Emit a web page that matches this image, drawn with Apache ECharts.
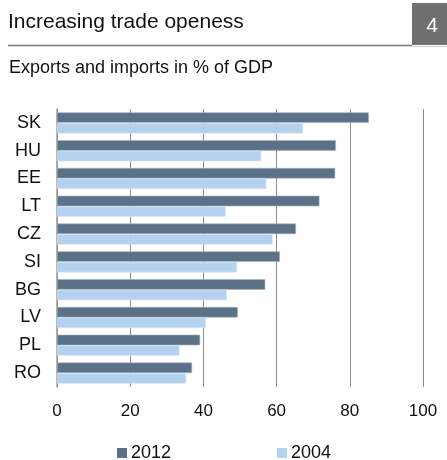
<!DOCTYPE html>
<html>
<head>
<meta charset="utf-8">
<script src="https://cdn.jsdelivr.net/npm/echarts@6/dist/echarts.min.js"></script>
<style>
	html, body { margin: 0; padding: 0; background: #fff; }
	#chart { width: 447px; height: 460px; }
</style>
</head>
<body>
<div id="chart"></div>
<script>
/**
 * Increasing trade openess - exports and imports in % of GDP
 */
var countries = ['SK', 'HU', 'EE', 'LT', 'CZ', 'SI', 'BG', 'LV', 'PL', 'RO'];
var values2012 = [85.2, 76.2, 76.0, 71.7, 65.3, 60.9, 56.9, 49.4, 39.1, 36.9];
var values2004 = [67.2, 55.8, 57.2, 46.1, 58.9, 49.2, 46.4, 40.7, 33.5, 35.3];
var seriesNames = ['2012', '2004'];
var xTicks = [0, 20, 40, 60, 80, 100];

var font = 'Liberation Sans, Arial, sans-serif';

function tradeChart(id) {
	var myChart = echarts.init(document.getElementById(id));
	var option = {
		animation: false,
		textStyle: { fontFamily: font },
		title: [
			{
				text: 'Increasing trade openess',
				left: 8,
				top: 12,
				padding: 0,
				textStyle: { fontFamily: font, fontSize: 21, fontWeight: 'normal', color: '#111' }
			},
			{
				text: 'Exports and imports in % of GDP',
				left: 9,
				top: 59,
				padding: 0,
				textStyle: { fontFamily: font, fontSize: 18, fontWeight: 'normal', color: '#111' }
			}
		],
		graphic: [
			{
				type: 'line',
				shape: { x1: 8, y1: 45.5, x2: 412, y2: 45.5 },
				style: { stroke: '#7a7a7a', lineWidth: 1.5 }
			},
			{
				type: 'line',
				shape: { x1: 412, y1: 46.5, x2: 447, y2: 46.5 },
				style: { stroke: '#cccccc', lineWidth: 1 }
			},
			{
				type: 'rect',
				shape: { x: 412, y: 3, width: 35, height: 42 },
				style: { fill: '#707070' }
			},
			{
				type: 'text',
				x: 432,
				y: 26,
				style: {
					text: '4',
					fill: '#fff',
					font: '21px ' + font,
					align: 'center',
					verticalAlign: 'middle'
				}
			}
		],
		legend: {
			data: seriesNames,
			left: 117,
			top: 444,
			padding: 0,
			itemGap: 106,
			itemWidth: 10,
			itemHeight: 10,
			icon: 'rect',
			itemStyle: { borderWidth: 0 },
			textStyle: { fontFamily: font, fontSize: 18, color: '#111', padding: [0, 0, 0, -1] }
		},
		grid: {
			left: 57,
			right: 24,
			top: 109,
			bottom: 73
		},
		xAxis: {
			type: 'value',
			min: xTicks[0],
			max: xTicks[xTicks.length - 1],
			interval: 20,
			axisLine: { show: false },
			axisTick: { show: false },
			axisLabel: { fontFamily: font, fontSize: 17, color: '#111', margin: 16 },
			splitLine: { show: true, lineStyle: { color: '#8c8c8c', width: 1 } }
		},
		yAxis: {
			type: 'category',
			inverse: true,
			data: countries,
			axisLine: { show: true, lineStyle: { color: '#999', width: 1.5 } },
			axisTick: { show: false },
			axisLabel: { fontFamily: font, fontSize: 18, color: '#111', margin: 16 }
		},
		series: [
			{
				name: seriesNames[0],
				type: 'bar',
				data: values2012,
				barGap: '0%',
				barCategoryGap: '24%',
				itemStyle: { color: '#5b7187', borderColor: '#a3b1be', borderWidth: 0.6 }
			},
			{
				name: seriesNames[1],
				type: 'bar',
				data: values2004,
				barGap: '0%',
				barCategoryGap: '24%',
				itemStyle: { color: '#b4d2ef', borderColor: '#dbe8f5', borderWidth: 0.6 }
			}
		]
	};
	myChart.setOption(option);
}

tradeChart('chart');
</script>
</body>
</html>
